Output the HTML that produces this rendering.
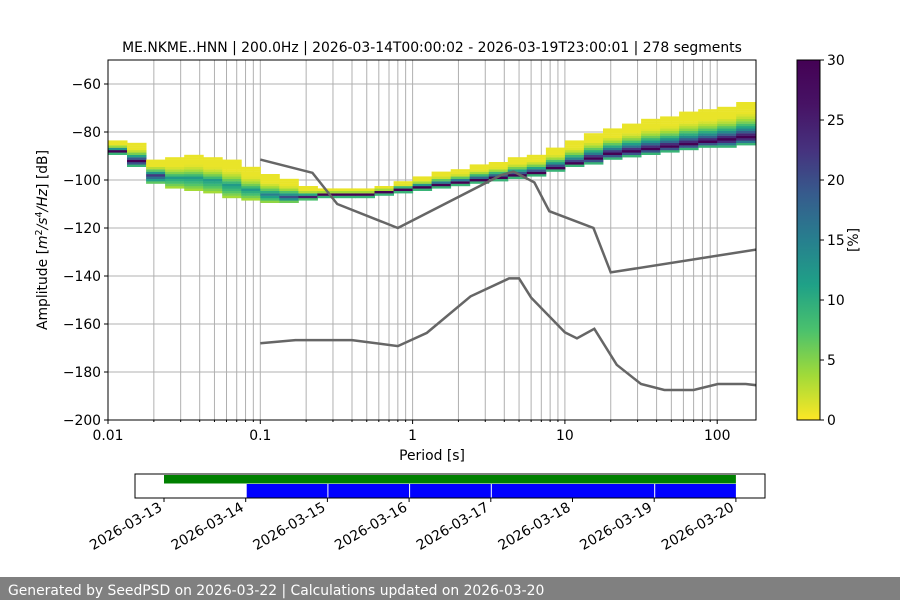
<!DOCTYPE html>
<html><head><meta charset="utf-8"><style>
body{margin:0;background:#fff}
svg{display:block;font-family:"DejaVu Sans","Liberation Sans",sans-serif}
</style></head><body>
<svg id="chart" width="900" height="600" viewBox="0 0 900 600" xmlns="http://www.w3.org/2000/svg">
<defs>
<linearGradient id="cbg" x1="0" y1="1" x2="0" y2="0">
<stop offset="0" stop-color="#fde725"/><stop offset="0.125" stop-color="#a0da39"/><stop offset="0.25" stop-color="#4ac16d"/><stop offset="0.375" stop-color="#1fa187"/><stop offset="0.5" stop-color="#277f8e"/><stop offset="0.625" stop-color="#365c8d"/><stop offset="0.75" stop-color="#46327e"/><stop offset="0.875" stop-color="#471365"/><stop offset="1" stop-color="#440154"/>
</linearGradient>
<clipPath id="pc"><rect x="108" y="60" width="648" height="360"/></clipPath>
</defs>
<g id="grid"></g>
<g id="heat" clip-path="url(#pc)"></g>
<g id="models" clip-path="url(#pc)"></g>
<rect x="108" y="60" width="648" height="360" fill="none" stroke="#000" stroke-width="1"/>
<g id="axes" font-size="13.9"></g>
<text x="432" y="52" text-anchor="middle" font-size="13.9">ME.NKME..HNN | 200.0Hz | 2026-03-14T00:00:02 - 2026-03-19T23:00:01 | 278 segments</text>
<text x="432" y="460" text-anchor="middle" font-size="13.9">Period [s]</text>
<text transform="translate(47,240) rotate(-90)" text-anchor="middle" font-size="13.9">Amplitude [<tspan font-style="italic">m</tspan><tspan font-size="9.5" dy="-5">2</tspan><tspan dy="5" font-style="italic">/s</tspan><tspan font-size="9.5" dy="-5">4</tspan><tspan dy="5" font-style="italic">/Hz</tspan>] [dB]</text>
<rect x="797" y="60" width="23" height="360" fill="url(#cbg)" stroke="#000" stroke-width="1"/>
<g id="cbax" font-size="13.9"></g>
<text transform="translate(858,240) rotate(-90)" text-anchor="middle" font-size="13.9">[%]</text>
<g id="timeline" font-size="13.9"></g>
<rect x="0" y="577" width="900" height="23" fill="#808080"/>
<text x="8" y="595" fill="#fff" font-size="13.9">Generated by SeedPSD on 2026-03-22 | Calculations updated on 2026-03-20</text>
</svg>
<script>
const colLogPeriod=[-2,-1.875,-1.75,-1.625,-1.5,-1.375,-1.25,-1.125,-1,-0.875,-0.75,-0.625,-0.5,-0.375,-0.25,-0.125,0,0.125,0.25,0.375,0.5,0.625,0.75,0.875,1,1.125,1.25,1.375,1.5,1.625,1.75,1.875,2,2.125];
const colLowDb=[-89,-94,-101,-103,-104,-105,-107,-108,-109,-109,-108,-107,-107,-107,-106,-105,-104,-103,-102,-101,-100,-99,-98,-96,-94,-93,-91,-90,-89,-88,-87,-86,-86,-85];
const colModeDb=[-88,-92,-98,-99,-99,-100,-102,-104,-106,-107,-107,-106,-106,-106,-105,-104,-103,-102,-101,-100,-99,-98,-97,-95,-93,-91,-89,-88,-87,-86,-85,-84,-83,-82];
const colHighDb=[-84,-85,-92,-91,-90,-91,-92,-95,-98,-100,-103,-104,-104,-104,-103,-101,-99,-97,-96,-94,-93,-91,-90,-87,-84,-81,-79,-77,-75,-74,-72,-71,-70,-68];
const colPeak=[30,30,22,12,12,12,12,12,15,20,25,30,30,30,30,30,30,30,30,30,30,30,30,30,30,30,30,30,30,30,30,30,30,30];
const nhnmPeriod=[0.1,0.22,0.32,0.8,3.8,4.6,6.3,7.9,15.4,20,180];
const nhnmDb=[-91.5,-97,-110,-120,-98,-96.5,-101,-113,-120,-138.5,-129];
const nlnmPeriod=[0.1,0.17,0.4,0.8,1.24,2.4,4.3,5,6,10,12,15.6,21.9,31.6,45,70,101,154,180];
const nlnmDb=[-168,-166.7,-166.7,-169.2,-163.7,-148.5,-141,-141,-149,-163.5,-166,-162,-177,-185,-187.5,-187.5,-185,-185,-185.5];
const yTicks=[-60,-80,-100,-120,-140,-160,-180,-200];
const xTickVals=[0.01,0.1,1,10,100];
const xTickLabels=["0.01","0.1","1","10","100"];
const cbTicks=[0,5,10,15,20,25,30];
const dayLabels=["2026-03-13","2026-03-14","2026-03-15","2026-03-16","2026-03-17","2026-03-18","2026-03-19","2026-03-20"];
const greenSpan=[0,7];
const blueSegs=[[1,2],[2,3],[3,4],[4,6],[6,7]];

const NS="http://www.w3.org/2000/svg";
function mk(tag,attrs,parent){const e=document.createElementNS(NS,tag);for(const k in attrs)e.setAttribute(k,attrs[k]);parent.appendChild(e);return e;}
const X=p=>108+(Math.log10(p)+2)*152.3;
const XL=l=>108+(l+2)*152.3;
const Y=d=>60+(-50-d)*2.4;
const vir=[[253,231,37],[160,218,57],[74,193,109],[31,161,135],[39,127,142],[54,92,141],[70,50,126],[71,19,101],[68,1,84]];
function cmap(v){let t=Math.max(0,Math.min(1,v/30))*8;const i=Math.min(7,Math.floor(t));const f=t-i;const a=vir[i],b=vir[i+1];return `rgb(${a.map((c,k)=>Math.round(c+(b[k]-c)*f)).join(',')})`;}

const grid=document.getElementById('grid');
for(let d=-2;d<=2;d++)for(let m=1;m<=9;m++){const p=m*Math.pow(10,d);if(p>180)continue;const x=X(p);const g=mk('line',{x1:x,x2:x,y1:60,y2:420,stroke:'#b0b0b0','stroke-width':1},grid);}
yTicks.forEach(v=>{const y=Y(v);const g=mk('line',{x1:108,x2:756,y1:y,y2:y,stroke:'#b0b0b0','stroke-width':1},grid);});

const heat=document.getElementById('heat');
colLogPeriod.forEach((l,i)=>{
  const x0=XL(l),w=XL(l+0.125)-x0;
  for(let db=colLowDb[i];db<=colHighDb[i];db++){
    let v;const md=colModeDb[i],pk=colPeak[i];
    if(db>=md){const r=(db-md)/Math.max(1,colHighDb[i]-md);v=Math.max(0.8,pk*Math.pow(1-r,3));}
    else{v=pk*(0.3+0.7*(db-colLowDb[i])/Math.max(1,md-colLowDb[i]));}
    const r=mk('rect',{x:x0.toFixed(1),y:Y(db+0.5).toFixed(1),width:(w+0.5).toFixed(1),height:2.6,fill:cmap(v)},heat);
    
    
  }
});

const models=document.getElementById('models');
const hp=mk('polyline',{points:nhnmPeriod.map((p,i)=>X(p)+','+Y(nhnmDb[i])).join(' '),fill:'none',stroke:'#666','stroke-width':2.5},models);

const lp=mk('polyline',{points:nlnmPeriod.map((p,i)=>X(p)+','+Y(nlnmDb[i])).join(' '),fill:'none',stroke:'#666','stroke-width':2.5},models);


const axes=document.getElementById('axes');
yTicks.forEach(v=>{const y=Y(v);mk('line',{x1:104,x2:108,y1:y,y2:y,stroke:'#000'},axes);const t=mk('text',{x:101,y:y+5,'text-anchor':'end'},axes);t.textContent='\u2212'+Math.abs(v);});
for(let d=-2;d<=2;d++)for(let m=2;m<=9;m++){const p=m*Math.pow(10,d);if(p>180)continue;mk('line',{x1:X(p),x2:X(p),y1:420,y2:422,stroke:'#000'},axes);}
xTickVals.forEach((p,i)=>{const x=X(p);mk('line',{x1:x,x2:x,y1:420,y2:424,stroke:'#000'},axes);const t=mk('text',{x:x,y:440,'text-anchor':'middle'},axes);t.textContent=xTickLabels[i];});

const cb=document.getElementById('cbax');
cbTicks.forEach(v=>{const y=420-v/30*360;mk('line',{x1:820,x2:824,y1:y,y2:y,stroke:'#000'},cb);const t=mk('text',{x:827,y:y+5},cb);t.textContent=v;});

const tl=document.getElementById('timeline');
const D=i=>164+i*81.7;
const box=mk('rect',{x:135,y:474,width:630,height:24,fill:'#fff',stroke:'#000'},tl);

const gb=mk('rect',{x:D(greenSpan[0]),y:475,width:D(greenSpan[1])-D(greenSpan[0]),height:8.5,fill:'#008000'},tl);

blueSegs.forEach(s=>{const r=mk('rect',{x:D(s[0])+1,y:484,width:D(s[1])-D(s[0])-1,height:13.5,fill:'#0000ff'},tl);});
dayLabels.forEach((s,i)=>{const x=D(i);mk('line',{x1:x,x2:x,y1:498,y2:502,stroke:'#000'},tl);const t=mk('text',{transform:`translate(${x-1},${510}) rotate(-30)`,'text-anchor':'end'},tl);t.textContent=s;});
</script>
</body></html>
